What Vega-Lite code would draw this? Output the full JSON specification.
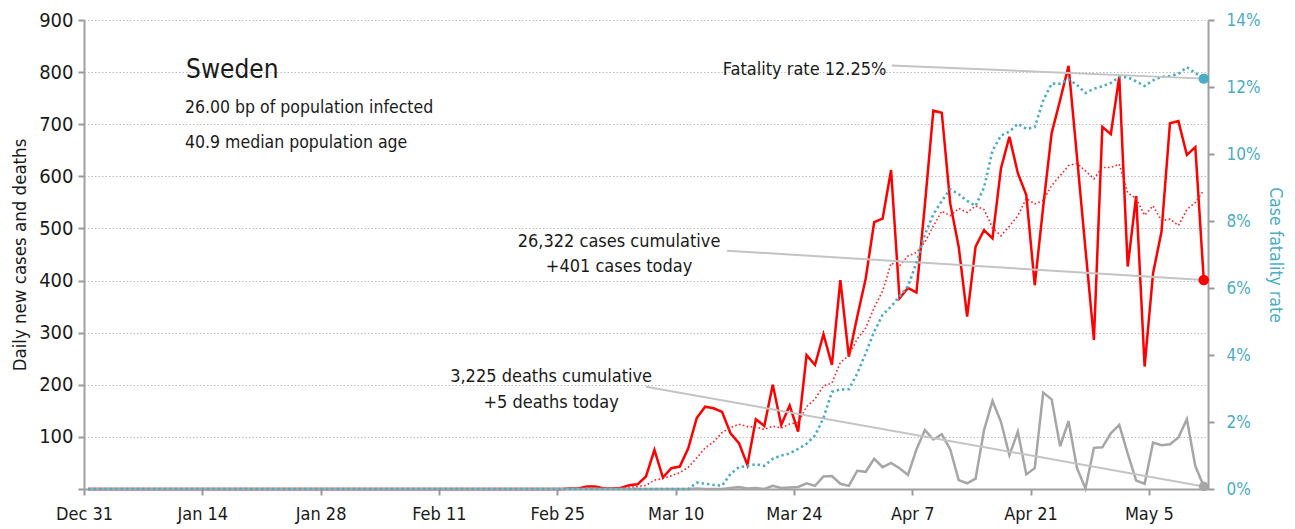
{
 "$schema": "https://vega.github.io/schema/vega-lite/v6.json",
 "width": 1124,
 "height": 469,
 "autosize": {"type": "none"},
 "padding": {"left": 84, "top": 20, "right": 87, "bottom": 40},
 "background": "white",
 "config": {
  "font": "DejaVu Sans Condensed, sans-serif",
  "view": {"stroke": null},
  "text": {"font": "DejaVu Sans Condensed, sans-serif", "color": "#1a1a1a"}
 },
 "datasets": {
  "series": [
   {"date":"2019-12-31","cases":0,"avg7":0,"deaths":0,"cfr":0},
   {"date":"2020-01-01","cases":0,"avg7":0,"deaths":0,"cfr":0},
   {"date":"2020-01-02","cases":0,"avg7":0,"deaths":0,"cfr":0},
   {"date":"2020-01-03","cases":0,"avg7":0,"deaths":0,"cfr":0},
   {"date":"2020-01-04","cases":0,"avg7":0,"deaths":0,"cfr":0},
   {"date":"2020-01-05","cases":0,"avg7":0,"deaths":0,"cfr":0},
   {"date":"2020-01-06","cases":0,"avg7":0,"deaths":0,"cfr":0},
   {"date":"2020-01-07","cases":0,"avg7":0,"deaths":0,"cfr":0},
   {"date":"2020-01-08","cases":0,"avg7":0,"deaths":0,"cfr":0},
   {"date":"2020-01-09","cases":0,"avg7":0,"deaths":0,"cfr":0},
   {"date":"2020-01-10","cases":0,"avg7":0,"deaths":0,"cfr":0},
   {"date":"2020-01-11","cases":0,"avg7":0,"deaths":0,"cfr":0},
   {"date":"2020-01-12","cases":0,"avg7":0,"deaths":0,"cfr":0},
   {"date":"2020-01-13","cases":0,"avg7":0,"deaths":0,"cfr":0},
   {"date":"2020-01-14","cases":0,"avg7":0,"deaths":0,"cfr":0},
   {"date":"2020-01-15","cases":0,"avg7":0,"deaths":0,"cfr":0},
   {"date":"2020-01-16","cases":0,"avg7":0,"deaths":0,"cfr":0},
   {"date":"2020-01-17","cases":0,"avg7":0,"deaths":0,"cfr":0},
   {"date":"2020-01-18","cases":0,"avg7":0,"deaths":0,"cfr":0},
   {"date":"2020-01-19","cases":0,"avg7":0,"deaths":0,"cfr":0},
   {"date":"2020-01-20","cases":0,"avg7":0,"deaths":0,"cfr":0},
   {"date":"2020-01-21","cases":0,"avg7":0,"deaths":0,"cfr":0},
   {"date":"2020-01-22","cases":0,"avg7":0,"deaths":0,"cfr":0},
   {"date":"2020-01-23","cases":0,"avg7":0,"deaths":0,"cfr":0},
   {"date":"2020-01-24","cases":0,"avg7":0,"deaths":0,"cfr":0},
   {"date":"2020-01-25","cases":0,"avg7":0,"deaths":0,"cfr":0},
   {"date":"2020-01-26","cases":0,"avg7":0,"deaths":0,"cfr":0},
   {"date":"2020-01-27","cases":0,"avg7":0,"deaths":0,"cfr":0},
   {"date":"2020-01-28","cases":0,"avg7":0,"deaths":0,"cfr":0},
   {"date":"2020-01-29","cases":0,"avg7":0,"deaths":0,"cfr":0},
   {"date":"2020-01-30","cases":0,"avg7":0,"deaths":0,"cfr":0},
   {"date":"2020-01-31","cases":0,"avg7":0,"deaths":0,"cfr":0},
   {"date":"2020-02-01","cases":0,"avg7":0,"deaths":0,"cfr":0},
   {"date":"2020-02-02","cases":0,"avg7":0,"deaths":0,"cfr":0},
   {"date":"2020-02-03","cases":0,"avg7":0,"deaths":0,"cfr":0},
   {"date":"2020-02-04","cases":0,"avg7":0,"deaths":0,"cfr":0},
   {"date":"2020-02-05","cases":0,"avg7":0,"deaths":0,"cfr":0},
   {"date":"2020-02-06","cases":0,"avg7":0,"deaths":0,"cfr":0},
   {"date":"2020-02-07","cases":0,"avg7":0,"deaths":0,"cfr":0},
   {"date":"2020-02-08","cases":0,"avg7":0,"deaths":0,"cfr":0},
   {"date":"2020-02-09","cases":0,"avg7":0,"deaths":0,"cfr":0},
   {"date":"2020-02-10","cases":0,"avg7":0,"deaths":0,"cfr":0},
   {"date":"2020-02-11","cases":0,"avg7":0,"deaths":0,"cfr":0},
   {"date":"2020-02-12","cases":0,"avg7":0,"deaths":0,"cfr":0},
   {"date":"2020-02-13","cases":0,"avg7":0,"deaths":0,"cfr":0},
   {"date":"2020-02-14","cases":0,"avg7":0,"deaths":0,"cfr":0},
   {"date":"2020-02-15","cases":0,"avg7":0,"deaths":0,"cfr":0},
   {"date":"2020-02-16","cases":0,"avg7":0,"deaths":0,"cfr":0},
   {"date":"2020-02-17","cases":0,"avg7":0,"deaths":0,"cfr":0},
   {"date":"2020-02-18","cases":0,"avg7":0,"deaths":0,"cfr":0},
   {"date":"2020-02-19","cases":0,"avg7":0,"deaths":0,"cfr":0},
   {"date":"2020-02-20","cases":0,"avg7":0,"deaths":0,"cfr":0},
   {"date":"2020-02-21","cases":0,"avg7":0,"deaths":0,"cfr":0},
   {"date":"2020-02-22","cases":0,"avg7":0,"deaths":0,"cfr":0},
   {"date":"2020-02-23","cases":0,"avg7":0,"deaths":0,"cfr":0},
   {"date":"2020-02-24","cases":0,"avg7":0,"deaths":0,"cfr":0},
   {"date":"2020-02-25","cases":0,"avg7":0,"deaths":0,"cfr":0},
   {"date":"2020-02-26","cases":1,"avg7":0.1,"deaths":0,"cfr":0},
   {"date":"2020-02-27","cases":1,"avg7":0.3,"deaths":0,"cfr":0},
   {"date":"2020-02-28","cases":5,"avg7":1.0,"deaths":0,"cfr":0},
   {"date":"2020-02-29","cases":5,"avg7":1.7,"deaths":0,"cfr":0},
   {"date":"2020-03-01","cases":1,"avg7":1.9,"deaths":0,"cfr":0},
   {"date":"2020-03-02","cases":1,"avg7":2.0,"deaths":0,"cfr":0},
   {"date":"2020-03-03","cases":2,"avg7":2.3,"deaths":0,"cfr":0},
   {"date":"2020-03-04","cases":7,"avg7":3.1,"deaths":0,"cfr":0},
   {"date":"2020-03-05","cases":9,"avg7":4.3,"deaths":0,"cfr":0},
   {"date":"2020-03-06","cases":24,"avg7":7.0,"deaths":0,"cfr":0},
   {"date":"2020-03-07","cases":75,"avg7":17.0,"deaths":0,"cfr":0},
   {"date":"2020-03-08","cases":22,"avg7":20.0,"deaths":0,"cfr":0},
   {"date":"2020-03-09","cases":40,"avg7":25.6,"deaths":0,"cfr":0},
   {"date":"2020-03-10","cases":43,"avg7":31.4,"deaths":0,"cfr":0},
   {"date":"2020-03-11","cases":78,"avg7":41.6,"deaths":0,"cfr":0},
   {"date":"2020-03-12","cases":136,"avg7":59.7,"deaths":1,"cfr":0.0019},
   {"date":"2020-03-13","cases":158,"avg7":78.9,"deaths":0,"cfr":0.0016},
   {"date":"2020-03-14","cases":155,"avg7":90.3,"deaths":0,"cfr":0.0012},
   {"date":"2020-03-15","cases":148,"avg7":108.3,"deaths":0,"cfr":0.0010},
   {"date":"2020-03-16","cases":107,"avg7":117.9,"deaths":2,"cfr":0.0045},
   {"date":"2020-03-17","cases":88,"avg7":124.3,"deaths":4,"cfr":0.0065},
   {"date":"2020-03-18","cases":46,"avg7":119.7,"deaths":1,"cfr":0.0069},
   {"date":"2020-03-19","cases":134,"avg7":119.4,"deaths":2,"cfr":0.0074},
   {"date":"2020-03-20","cases":121,"avg7":114.1,"deaths":0,"cfr":0.0069},
   {"date":"2020-03-21","cases":200,"avg7":120.6,"deaths":6,"cfr":0.0090},
   {"date":"2020-03-22","cases":123,"avg7":117.0,"deaths":2,"cfr":0.0100},
   {"date":"2020-03-23","cases":160,"avg7":124.6,"deaths":3,"cfr":0.0106},
   {"date":"2020-03-24","cases":110,"avg7":127.7,"deaths":4,"cfr":0.0120},
   {"date":"2020-03-25","cases":257,"avg7":157.9,"deaths":11,"cfr":0.0135},
   {"date":"2020-03-26","cases":238,"avg7":172.7,"deaths":6,"cfr":0.0160},
   {"date":"2020-03-27","cases":297,"avg7":197.9,"deaths":24,"cfr":0.0212},
   {"date":"2020-03-28","cases":238,"avg7":203.3,"deaths":25,"cfr":0.0290},
   {"date":"2020-03-29","cases":401,"avg7":243.0,"deaths":10,"cfr":0.0297},
   {"date":"2020-03-30","cases":254,"avg7":256.4,"deaths":6,"cfr":0.0298},
   {"date":"2020-03-31","cases":331,"avg7":288.0,"deaths":35,"cfr":0.0345},
   {"date":"2020-04-01","cases":404,"avg7":309.0,"deaths":33,"cfr":0.0405},
   {"date":"2020-04-02","cases":512,"avg7":348.1,"deaths":58,"cfr":0.0470},
   {"date":"2020-04-03","cases":519,"avg7":379.9,"deaths":42,"cfr":0.0520},
   {"date":"2020-04-04","cases":612,"avg7":433.3,"deaths":50,"cfr":0.0545},
   {"date":"2020-04-05","cases":366,"avg7":428.3,"deaths":40,"cfr":0.0575},
   {"date":"2020-04-06","cases":386,"avg7":447.1,"deaths":27,"cfr":0.0605},
   {"date":"2020-04-07","cases":377,"avg7":453.7,"deaths":76,"cfr":0.0675},
   {"date":"2020-04-08","cases":545,"avg7":473.9,"deaths":113,"cfr":0.0760},
   {"date":"2020-04-09","cases":726,"avg7":504.4,"deaths":95,"cfr":0.0820},
   {"date":"2020-04-10","cases":722,"avg7":533.4,"deaths":105,"cfr":0.0860},
   {"date":"2020-04-11","cases":548,"avg7":524.3,"deaths":76,"cfr":0.0895},
   {"date":"2020-04-12","cases":465,"avg7":538.4,"deaths":17,"cfr":0.0880},
   {"date":"2020-04-13","cases":331,"avg7":530.6,"deaths":11,"cfr":0.0860},
   {"date":"2020-04-14","cases":465,"avg7":543.1,"deaths":20,"cfr":0.0845},
   {"date":"2020-04-15","cases":497,"avg7":536.3,"deaths":113,"cfr":0.0900},
   {"date":"2020-04-16","cases":481,"avg7":501.3,"deaths":169,"cfr":0.1010},
   {"date":"2020-04-17","cases":615,"avg7":486.0,"deaths":129,"cfr":0.1055},
   {"date":"2020-04-18","cases":676,"avg7":504.3,"deaths":65,"cfr":0.1067},
   {"date":"2020-04-19","cases":606,"avg7":524.4,"deaths":110,"cfr":0.1090},
   {"date":"2020-04-20","cases":564,"avg7":557.7,"deaths":28,"cfr":0.1075},
   {"date":"2020-04-21","cases":391,"avg7":547.1,"deaths":40,"cfr":0.1080},
   {"date":"2020-04-22","cases":542,"avg7":553.6,"deaths":185,"cfr":0.1160},
   {"date":"2020-04-23","cases":683,"avg7":582.4,"deaths":172,"cfr":0.1210},
   {"date":"2020-04-24","cases":746,"avg7":601.1,"deaths":82,"cfr":0.1210},
   {"date":"2020-04-25","cases":812,"avg7":620.6,"deaths":130,"cfr":0.1223},
   {"date":"2020-04-26","cases":637,"avg7":625.0,"deaths":40,"cfr":0.1206},
   {"date":"2020-04-27","cases":461,"avg7":610.3,"deaths":1,"cfr":0.1182},
   {"date":"2020-04-28","cases":286,"avg7":595.3,"deaths":79,"cfr":0.1195},
   {"date":"2020-04-29","cases":695,"avg7":617.1,"deaths":80,"cfr":0.1202},
   {"date":"2020-04-30","cases":681,"avg7":616.9,"deaths":107,"cfr":0.1212},
   {"date":"2020-05-01","cases":791,"avg7":623.3,"deaths":123,"cfr":0.1230},
   {"date":"2020-05-02","cases":427,"avg7":568.3,"deaths":68,"cfr":0.1229},
   {"date":"2020-05-03","cases":562,"avg7":557.6,"deaths":16,"cfr":0.1217},
   {"date":"2020-05-04","cases":235,"avg7":525.3,"deaths":10,"cfr":0.1203},
   {"date":"2020-05-05","cases":414,"avg7":543.6,"deaths":89,"cfr":0.1220},
   {"date":"2020-05-06","cases":494,"avg7":514.9,"deaths":84,"cfr":0.1230},
   {"date":"2020-05-07","cases":702,"avg7":517.9,"deaths":86,"cfr":0.1233},
   {"date":"2020-05-08","cases":706,"avg7":505.7,"deaths":99,"cfr":0.1239},
   {"date":"2020-05-09","cases":641,"avg7":536.3,"deaths":134,"cfr":0.1259},
   {"date":"2020-05-10","cases":656,"avg7":549.7,"deaths":44,"cfr":0.1242},
   {"date":"2020-05-11","cases":401,"avg7":573.4,"deaths":5,"cfr":0.1225}
  ],
  "latest": [
   {"date":"2020-05-11","cases":401,"deaths":5,"cfr":0.1225}
  ],
  "notes": [
   {"kind":"title","label":["Sweden"],"date":"2020-01-12T01:45:00Z","v":788.7},
   {"kind":"info","label":["26.00 bp of population infected","40.9 median population age"],"date":"2020-01-11T23:00:00Z","v":721.5},
   {"kind":"note","label":["26,322 cases cumulative","+401 cases today"],"date":"2020-03-03T07:30:00Z","v":464.4},
   {"kind":"note","label":["3,225 deaths cumulative","+5 deaths today"],"date":"2020-02-24T06:30:00Z","v":205.3},
   {"kind":"fatal","label":["Fatality rate 12.25%"],"date":"2020-04-03T23:00:00Z","v":794.5}
  ],
  "leadersLeft": [
   {"date":"2020-03-16T01:30:00Z","v":457.3,"date2":"2020-05-11T12:00:00Z","v2":401},
   {"date":"2020-03-06T12:00:00Z","v":196.3,"date2":"2020-05-11T12:00:00Z","v2":5}
  ],
  "leadersRight": [
   {"date":"2020-04-04T14:00:00Z","v":0.1264,"date2":"2020-05-11T12:00:00Z","v2":0.1225}
  ]
 },
 "layer": [
  {
   "layer": [
    {
     "data": {"name": "series"},
     "mark": {"type": "line", "color": "#ff0000", "strokeWidth": 2.5, "strokeJoin": "miter"},
     "encoding": {
      "x": {"field": "date", "type": "temporal", "timeUnit": "utcyearmonthdate", "bandPosition": 0.5,
            "scale": {"domain": [{"year": 2019, "month": 12, "date": 31, "utc": true}, {"year": 2020, "month": 5, "date": 12, "utc": true}]},
            "axis": {"title": null, "format": "%b %-d", "grid": false,
                     "values": [{"year": 2019, "month": 12, "date": 31, "utc": true}, {"year": 2020, "month": 1, "date": 14, "utc": true}, {"year": 2020, "month": 1, "date": 28, "utc": true}, {"year": 2020, "month": 2, "date": 11, "utc": true}, {"year": 2020, "month": 2, "date": 25, "utc": true}, {"year": 2020, "month": 3, "date": 10, "utc": true}, {"year": 2020, "month": 3, "date": 24, "utc": true}, {"year": 2020, "month": 4, "date": 7, "utc": true}, {"year": 2020, "month": 4, "date": 21, "utc": true}, {"year": 2020, "month": 5, "date": 5, "utc": true}],
                     "labelFontSize": 18, "labelColor": "#1a1a1a", "labelPadding": 10, "tickSize": 6, "tickColor": "#999999", "tickWidth": 2, "domainColor": "#a0a0a0", "domainWidth": 2, "labelFlush": false, "labelOverlap": false}},
      "y": {"field": "cases", "type": "quantitative",
            "scale": {"domain": [0, 900], "nice": false},
            "axis": {"title": "Daily new cases and deaths", "titleFontSize": 18.5, "titleFontWeight": "normal", "titleColor": "#1a1a1a", "titlePadding": 9,
                     "values": [0, 100, 200, 300, 400, 500, 600, 700, 800, 900],
                     "labelExpr": "datum.value == 0 ? '' : datum.label",
                     "labelFontSize": 20, "labelColor": "#1a1a1a", "labelPadding": 5,
                     "grid": true, "gridColor": "#bdbdbd", "gridDash": [1.5, 2], "gridWidth": 1,
                     "tickSize": 6, "tickColor": "#999999", "tickWidth": 2, "domainColor": "#a0a0a0", "domainWidth": 2}}
     }
    },
    {
     "data": {"name": "series"},
     "mark": {"type": "line", "color": "#ff2020", "strokeWidth": 1.6, "strokeDash": [1.6, 2.4]},
     "encoding": {
      "x": {"field": "date", "type": "temporal", "timeUnit": "utcyearmonthdate", "bandPosition": 0.5},
      "y": {"field": "avg7", "type": "quantitative"}
     }
    },
    {
     "data": {"name": "series"},
     "mark": {"type": "line", "color": "#a6a6a6", "strokeWidth": 2.5},
     "encoding": {
      "x": {"field": "date", "type": "temporal", "timeUnit": "utcyearmonthdate", "bandPosition": 0.5},
      "y": {"field": "deaths", "type": "quantitative"}
     }
    },
    {
     "data": {"name": "leadersLeft"},
     "mark": {"type": "rule", "color": "#c4c4c4", "strokeWidth": 2},
     "encoding": {
      "x": {"field": "date", "type": "temporal", "timeUnit": "utcyearmonthdatehoursminutes"},
      "x2": {"field": "date2", "timeUnit": "utcyearmonthdatehoursminutes"},
      "y": {"field": "v", "type": "quantitative"},
      "y2": {"field": "v2"}
     }
    },
    {
     "data": {"name": "latest"},
     "mark": {"type": "circle", "color": "#ff0000", "size": 110, "opacity": 1},
     "encoding": {
      "x": {"field": "date", "type": "temporal", "timeUnit": "utcyearmonthdate", "bandPosition": 0.5},
      "y": {"field": "cases", "type": "quantitative"}
     }
    },
    {
     "data": {"name": "latest"},
     "mark": {"type": "circle", "color": "#a6a6a6", "size": 95, "opacity": 1},
     "encoding": {
      "x": {"field": "date", "type": "temporal", "timeUnit": "utcyearmonthdate", "bandPosition": 0.5},
      "y": {"field": "deaths", "type": "quantitative"}
     }
    },
    {
     "data": {"name": "notes"},
     "transform": [{"filter": {"field": "kind", "equal": "title"}}],
     "mark": {"type": "text", "align": "left", "baseline": "alphabetic", "fontSize": 26},
     "encoding": {
      "x": {"field": "date", "type": "temporal", "timeUnit": "utcyearmonthdatehoursminutes"},
      "y": {"field": "v", "type": "quantitative"},
      "text": {"field": "label"}
     }
    },
    {
     "data": {"name": "notes"},
     "transform": [{"filter": {"field": "kind", "equal": "info"}}],
     "mark": {"type": "text", "align": "left", "baseline": "alphabetic", "fontSize": 17.5, "lineHeight": 35},
     "encoding": {
      "x": {"field": "date", "type": "temporal", "timeUnit": "utcyearmonthdatehoursminutes"},
      "y": {"field": "v", "type": "quantitative"},
      "text": {"field": "label"}
     }
    },
    {
     "data": {"name": "notes"},
     "transform": [{"filter": {"field": "kind", "equal": "note"}}],
     "mark": {"type": "text", "align": "center", "baseline": "alphabetic", "fontSize": 18, "lineHeight": 25.5},
     "encoding": {
      "x": {"field": "date", "type": "temporal", "timeUnit": "utcyearmonthdatehoursminutes"},
      "y": {"field": "v", "type": "quantitative"},
      "text": {"field": "label"}
     }
    },
    {
     "data": {"name": "notes"},
     "transform": [{"filter": {"field": "kind", "equal": "fatal"}}],
     "mark": {"type": "text", "align": "right", "baseline": "alphabetic", "fontSize": 18},
     "encoding": {
      "x": {"field": "date", "type": "temporal", "timeUnit": "utcyearmonthdatehoursminutes"},
      "y": {"field": "v", "type": "quantitative"},
      "text": {"field": "label"}
     }
    }
   ]
  },
  {
   "layer": [
    {
     "data": {"name": "series"},
     "mark": {"type": "line", "color": "#4bacc6", "strokeWidth": 2.6, "strokeDash": [2.4, 3]},
     "encoding": {
      "x": {"field": "date", "type": "temporal", "timeUnit": "utcyearmonthdate", "bandPosition": 0.5},
      "y": {"field": "cfr", "type": "quantitative",
            "scale": {"domain": [0, 0.14], "nice": false},
            "axis": {"orient": "right", "title": "Case fatality rate", "titleFontSize": 17.5, "titleFontWeight": "normal", "titleColor": "#4bacc6", "titlePadding": 6,
                     "values": [0, 0.02, 0.04, 0.06, 0.08, 0.1, 0.12, 0.14], "format": ".0%",
                     "labelFontSize": 17, "labelColor": "#4bacc6", "labelPadding": 12, "grid": false,
                     "tickSize": 6, "tickColor": "#999999", "tickWidth": 2, "domainColor": "#a0a0a0", "domainWidth": 2}}
     }
    },
    {
     "data": {"name": "leadersRight"},
     "mark": {"type": "rule", "color": "#c4c4c4", "strokeWidth": 2},
     "encoding": {
      "x": {"field": "date", "type": "temporal", "timeUnit": "utcyearmonthdatehoursminutes"},
      "x2": {"field": "date2", "timeUnit": "utcyearmonthdatehoursminutes"},
      "y": {"field": "v", "type": "quantitative"},
      "y2": {"field": "v2"}
     }
    },
    {
     "data": {"name": "latest"},
     "mark": {"type": "circle", "color": "#4bacc6", "size": 110, "opacity": 1},
     "encoding": {
      "x": {"field": "date", "type": "temporal", "timeUnit": "utcyearmonthdate", "bandPosition": 0.5},
      "y": {"field": "cfr", "type": "quantitative"}
     }
    }
   ]
  }
 ],
 "resolve": {"scale": {"y": "independent"}, "axis": {"y": "independent"}}
}
